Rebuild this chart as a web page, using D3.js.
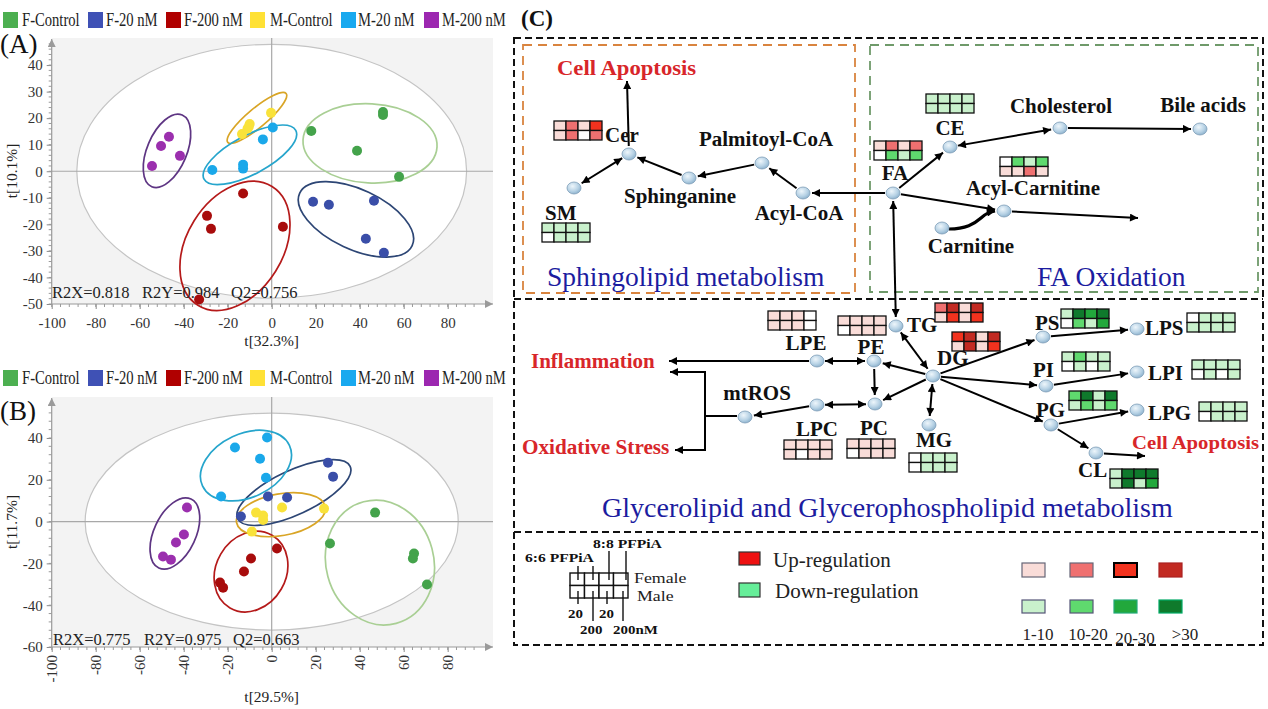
<!DOCTYPE html>
<html>
<head>
<meta charset="utf-8">
<script src="https://cdn.jsdelivr.net/npm/d3@7"></script>
<style>
  body { margin: 0; background: #fff; }
  svg { display: block; font-family: "Liberation Serif", "Times New Roman", serif; }
</style>
</head>
<body>
<div id="chart"></div>
<script>
// ---------- data: PLS-DA scores ----------
const groups = ["F-Control", "F-20 nM", "F-200 nM", "M-Control", "M-20 nM", "M-200 nM"];

// panel A scores [t1, t2]
const scoresA_FControl = [[18, 15.2], [50.6, 22.3], [50.6, 21.2], [38.8, 7.7], [57.9, -2.1]];
const scoresA_F20 = [[18.8, -11.5], [26, -12.6], [46.5, -11.1], [42.8, -25.4], [51, -30.7]];
const scoresA_F200 = [[-13, -8.4], [-29.4, -16.8], [-27.6, -21.7], [5.1, -20.9], [-33, -48.3]];
const scoresA_MControl = [[-13.5, 14], [-11, 16], [-10, 17.8], [-10.4, 16.8], [-0.3, 22]];
const scoresA_M20 = [[-27, 0.5], [-13, 1], [-13, 2.5], [-4, 12], [0.5, 16.5]];
const scoresA_M200 = [[-54.4, 2], [-50.3, 9.5], [-46.7, 13], [-41.7, 5.8]];

// panel B scores [t1, t2]
const scoresB_FControl = [[47, 4.3], [26.5, -10.5], [64.7, -15.3], [64.2, -17.7], [70.6, -30.1]];
const scoresB_F20 = [[25.6, 28.2], [27.9, 21.5], [-1.7, 12], [7, 11.5], [-14, 2.4]];
const scoresB_F200 = [[2.4, -12.9], [-9.4, -17.7], [-12.6, -23.9], [-23.5, -29.2], [-22.1, -31.6]];
const scoresB_MControl = [[-7.1, 4.3], [-3.9, 2.9], [4.7, 6.7], [23.8, 6.2], [-9, -4.8], [-3.9, 0.8]];
const scoresB_M20 = [[-16.7, 35.4], [-2.1, 40.2], [-5.3, 30.1], [-2.6, 21], [-23, 12]];
const scoresB_M200 = [[-38.5, 6.7], [-39.9, -6.2], [-43.5, -10], [-49.4, -16.7], [-45.8, -18.2]];

// group confidence ellipses [t1 centre, t2 centre, semi-major, semi-minor (t1 units), angle deg]
const ellipsesA = [[44.7, 10.5, 30.5, 18, 3], [38.3, -18.1, 28.2, 13.6, 25], [-16.7, -28.1, 31.8, 21.8, -58],
                   [-6.7, 20.1, 17.3, 4.3, -40], [-9.9, 6.2, 23.6, 8.8, -28], [-47.6, 7.7, 17.7, 9, -67]];
const ellipsesB = [[49.2, -19.6, 28.6, 24.5, 75], [10.1, 13.9, 28.2, 10, -25], [-9.4, -23.9, 19.1, 15.9, -60],
                   [4.2, 3.3, 20.5, 9.5, -10], [-11.7, 26.8, 21.8, 14.5, -25], [-44, -5.7, 17.3, 9.5, -65]];

// Hotelling T2 ellipse semi-axes [t1, t2]
const hotellingA = [88.6, 47.8];
const hotellingB = [84.8, 51.9];

const statsA = ["R2X=0.818", "R2Y=0.984", "Q2=0.756"];
const statsB = ["R2X=0.775", "R2Y=0.975", "Q2=0.663"];
const axisLabelsA = ["t[32.3%]", "t[10.1%]"];
const axisLabelsB = ["t[29.5%]", "t[11.7%]"];

// ---------- data: lipid fold-change levels (+ up, - down, 0 none) ----------
// columns: 6:6 20, 6:6 200, 8:8 20, 8:8 200 nM
const lipids = ["Cer", "SM", "FA", "CE", "Acyl-Carnitine", "LPE", "PE", "TG", "DG", "LPC", "PC", "MG",
                "PS", "LPS", "PI", "LPI", "PG", "LPG", "CL"];
const femaleLevel = [[1, 2, 1, 3], [-1, -1, -1, -1], [1, 2, 1, 2], [-1, -1, -1, -1], [0, -2, -1, -2],
                     [1, 1, 1, 0], [1, 1, 1, 1], [2, 4, 1, 4], [3, 4, 1, 4], [1, 1, 1, 1], [1, 1, 1, 1],
                     [0, -1, -1, -1], [-1, -4, -3, -4], [0, -1, -1, -1], [-1, -2, -1, -1], [-1, -1, -1, -1],
                     [-2, -4, -1, -4], [-1, -1, -1, -1], [-1, -4, -4, -4]];
const maleLevel = [[1, 2, 0, 2], [0, -1, -1, -1], [0, -2, -1, -2], [-1, -1, -1, -1], [1, 1, 2, 1],
                   [1, 1, 1, 0], [0, 1, 1, 1], [1, 3, 1, 3], [1, 4, 1, 3], [1, 0, 1, 1], [0, 1, 1, 1],
                   [0, -1, -1, -1], [0, -2, -1, -3], [-1, -1, -1, -1], [0, -1, 0, -1], [0, -1, 0, -1],
                   [-1, -2, -1, -2], [0, -1, -1, -1], [-1, -4, -1, -3]];
const levelBins = ["1-10", "10-20", "20-30", ">30"];

// ---------- styles ----------
const groupFill = ["#44a34b", "#3a4ea8", "#a80c0c", "#f9e23a", "#1aa8ea", "#9b2fae"];
const groupLegend = ["#4caf50", "#3f51b5", "#b00000", "#ffe135", "#19a9ef", "#9c27b0"];
const groupRing = ["#a9cf94", "#2d4675", "#b51a1a", "#d9a526", "#26a5cc", "#5e3583"];
const levelColor = d3.scaleOrdinal()
  .domain([4, 3, 2, 1, 0, -1, -2, -3, -4])
  .range(["#c22a22", "#f2321e", "#ef7070", "#f9dcd8", "#ffffff", "#c9f1cc", "#5fd96e", "#22a83c", "#0f7a2c"]);

const W = 1268, H = 709;
const svg = d3.select("#chart").append("svg").attr("width", W).attr("height", H);
const defs = svg.append("defs");

defs.append("marker").attr("id", "ah")
  .attr("viewBox", "0 0 10 10").attr("refX", 10).attr("refY", 5)
  .attr("markerWidth", 10).attr("markerHeight", 8).attr("markerUnits", "userSpaceOnUse")
  .attr("orient", "auto-start-reverse")
  .append("path").attr("d", "M0,0L10,5L0,10z").attr("fill", "#000");
defs.append("marker").attr("id", "axah")
  .attr("viewBox", "0 0 10 10").attr("refX", 10).attr("refY", 5)
  .attr("markerWidth", 11).attr("markerHeight", 8).attr("markerUnits", "userSpaceOnUse")
  .attr("orient", "auto")
  .append("path").attr("d", "M0,0L10,5L0,10z").attr("fill", "#9a9a9a");
const grad = defs.append("radialGradient").attr("id", "nodeG")
  .attr("cx", "40%").attr("cy", "35%").attr("r", "70%");
grad.append("stop").attr("offset", "0%").attr("stop-color", "#eef6fb");
grad.append("stop").attr("offset", "60%").attr("stop-color", "#b7d2e5");
grad.append("stop").attr("offset", "100%").attr("stop-color", "#88aeca");

function txt(g, s, x, y, o = {}) {
  return g.append("text")
    .attr("transform", `translate(${x},${y}) scale(${o.sx || 1},1)${o.rot ? ` rotate(${o.rot})` : ""}`)
    .attr("text-anchor", o.anchor || "start")
    .attr("font-size", o.size || 15)
    .attr("font-weight", o.weight || "normal")
    .attr("fill", o.fill || "#111")
    .text(s);
}

// ---------- score plots ----------
function scorePanel(p) {
  const g = svg.append("g");
  const x = d3.scaleLinear().domain([-100, 100.6]).range([51.7, 493]);
  const y = d3.scaleLinear().domain(p.yDomain).range(p.yRange);
  const [x0, x1] = x.range(), [yb, yt] = y.range();
  const kx = x(1) - x(0);

  g.append("rect").attr("x", x0).attr("y", yt).attr("width", x1 - x0).attr("height", yb - yt)
    .attr("fill", "#f3f3f3");
  g.append("ellipse").attr("cx", x(0)).attr("cy", y(0))
    .attr("rx", x(p.hot[0]) - x(0)).attr("ry", y(0) - y(p.hot[1]))
    .attr("fill", "#fff").attr("stroke", "#c4c4c4").attr("stroke-width", 1.2);

  g.append("line").attr("x1", x(0)).attr("x2", x(0)).attr("y1", yt).attr("y2", yb)
    .attr("stroke", "#a8a8a8").attr("stroke-width", 1.2);
  g.append("line").attr("x1", x0).attr("x2", x1).attr("y1", y(0)).attr("y2", y(0))
    .attr("stroke", "#a8a8a8").attr("stroke-width", 1.2);

  // axes
  const ya = g.append("g").attr("transform", `translate(${x0},0)`)
    .call(d3.axisLeft(y).tickValues(p.yMajor).tickSize(5).tickPadding(4).tickFormat(d => String(d)));
  const xa = g.append("g").attr("transform", `translate(0,${yb})`)
    .call(d3.axisBottom(x).tickValues(d3.range(-100, 81, 20)).tickSize(5).tickPadding(8).tickFormat(d => String(d)));
  [ya, xa].forEach(a => {
    a.attr("font-family", null).attr("font-size", null);
    a.select(".domain").remove();
    a.selectAll("line").attr("stroke", "#8a8a8a");
    a.selectAll("text").attr("font-size", 15).attr("fill", "#333");
  });
  if (p.rotX) {
    xa.selectAll("text").attr("transform", "rotate(-90)").attr("text-anchor", "end")
      .attr("x", -8).attr("y", 0).attr("dy", "0.35em");
  }
  g.append("g").selectAll("line").data(p.yMinor).join("line")
    .attr("x1", x0 - 3).attr("x2", x0).attr("y1", d => y(d)).attr("y2", d => y(d))
    .attr("stroke", "#9a9a9a");
  g.append("g").selectAll("line").data(d3.range(-100, 96, 4)).join("line")
    .attr("x1", d => x(d)).attr("x2", d => x(d)).attr("y1", yb).attr("y2", yb + 3)
    .attr("stroke", "#9a9a9a");
  g.append("line").attr("x1", x0).attr("x2", x0).attr("y1", yb).attr("y2", yt + 1)
    .attr("stroke", "#9a9a9a").attr("stroke-width", 1.2).attr("marker-end", "url(#axah)");
  g.append("line").attr("x1", x0).attr("x2", x1).attr("y1", yb).attr("y2", yb)
    .attr("stroke", "#9a9a9a").attr("stroke-width", 1.2).attr("marker-end", "url(#axah)");

  // group ellipses
  g.append("g").selectAll("ellipse").data(p.ell).join("ellipse")
    .attr("transform", d => `translate(${x(d[0])},${y(d[1])}) rotate(${d[4]})`)
    .attr("rx", d => d[2] * kx).attr("ry", d => d[3] * kx)
    .attr("fill", "none").attr("stroke", (d, i) => groupRing[i]).attr("stroke-width", 1.7);

  // stats text
  p.stats.forEach((s, i) => txt(g, s, p.statX[i], p.statY, { size: 16.5, fill: "#222" }));

  // points
  p.scores.forEach((pts, i) => {
    g.append("g").selectAll("circle").data(pts).join("circle")
      .attr("cx", d => x(d[0])).attr("cy", d => y(d[1])).attr("r", 5)
      .attr("fill", groupFill[i]);
  });

  // axis titles
  txt(g, p.labels[0], x(0), p.xLabelY, { anchor: "middle", size: 15.5, fill: "#222" });
  txt(g, p.labels[1], 17, (yb + yt) / 2 + p.yLabelShift, { anchor: "middle", size: 15.5, fill: "#222", rot: -90 });

  // legend
  const legX = [3, 88, 166, 250, 341, 424];
  const legT = [22, 106, 184, 270, 358, 442];
  groups.forEach((gr, i) => {
    g.append("rect").attr("x", legX[i]).attr("y", p.legY).attr("width", 15).attr("height", 16)
      .attr("fill", groupLegend[i]);
    txt(g, gr, legT[i], p.legY + 14, { size: 19, sx: 0.77, fill: "#222" });
  });
  txt(g, p.tag, 0, p.tagY, { size: 27, fill: "#111" });
}

scorePanel({
  yDomain: [-50, 50.2], yRange: [304, 38],
  yMajor: d3.range(-50, 41, 10), yMinor: d3.range(-50, 49, 2),
  hot: hotellingA, ell: ellipsesA,
  scores: [scoresA_FControl, scoresA_F20, scoresA_F200, scoresA_MControl, scoresA_M20, scoresA_M200],
  stats: statsA, statX: [52, 142, 231], statY: 298,
  labels: axisLabelsA, xLabelY: 346, yLabelShift: 0,
  legY: 12, tag: "(A)", tagY: 53, rotX: false
});
scorePanel({
  yDomain: [-60, 59.6], yRange: [647, 397],
  yMajor: d3.range(-60, 41, 20), yMinor: d3.range(-60, 57, 4),
  hot: hotellingB, ell: ellipsesB,
  scores: [scoresB_FControl, scoresB_F20, scoresB_F200, scoresB_MControl, scoresB_M20, scoresB_M200],
  stats: statsB, statX: [53, 144, 233], statY: 645,
  labels: axisLabelsB, xLabelY: 702, yLabelShift: 0,
  legY: 370, tag: "(B)", tagY: 420, rotX: true
});

// ---------- pathway panel C ----------
const C = svg.append("g");
txt(C, "(C)", 521, 26, { size: 23, weight: "bold" });

C.append("rect").attr("x", 514).attr("y", 38).attr("width", 749).attr("height", 607)
  .attr("fill", "none").attr("stroke", "#111").attr("stroke-width", 2).attr("stroke-dasharray", "7,4");
[299, 532].forEach(yy => C.append("line").attr("x1", 514).attr("x2", 1263).attr("y1", yy).attr("y2", yy)
  .attr("stroke", "#111").attr("stroke-width", 2).attr("stroke-dasharray", "7,4"));
C.append("rect").attr("x", 523).attr("y", 45).attr("width", 332).attr("height", 248)
  .attr("fill", "none").attr("stroke", "#d9843f").attr("stroke-width", 1.8).attr("stroke-dasharray", "9,6");
C.append("rect").attr("x", 870).attr("y", 45).attr("width", 388).attr("height", 247)
  .attr("fill", "none").attr("stroke", "#6f9a6a").attr("stroke-width", 1.8).attr("stroke-dasharray", "9,6");

const pos = {
  Cer: [629, 154], SM: [574, 188], Sphinganine: [689, 178], Palmitoyl: [762, 163], AcylCoA: [803, 193],
  FA: [893, 193], CE: [950, 147], Cholesterol: [1060, 128], Bile: [1200, 129], AcylCarnitine: [1004, 211],
  Carnitine: [942, 228], TG: [896, 326], DG: [933, 376], PE: [874, 361], LPE: [817, 361], PC: [875, 404],
  LPC: [817, 405], mtROS: [745, 417], MG: [929, 425], PS: [1043, 337], LPS: [1137, 329], PI: [1046, 386],
  LPI: [1137, 372], PG: [1051, 425], LPG: [1137, 410], CL: [1096, 453]
};

const links = [
  ["Cer", [627, 81], 1], ["Cer", "SM", 2], ["Sphinganine", "Cer", 1], ["Palmitoyl", "Sphinganine", 1],
  ["AcylCoA", "Palmitoyl", 1], ["FA", "AcylCoA", 1], ["FA", "CE", 1], ["CE", "Cholesterol", 2],
  ["Cholesterol", "Bile", 1], ["FA", "AcylCarnitine", 1], ["AcylCarnitine", [1138, 218], 1],
  ["FA", "TG", 2], ["TG", "DG", 2], ["DG", "PE", 1], ["DG", "PC", 1], ["DG", "MG", 2],
  ["DG", "PS", 1], ["DG", "PI", 1], ["DG", "PG", 1], ["PS", "LPS", 1], ["PI", "LPI", 1],
  ["PG", "LPG", 1], ["PG", "CL", 1], ["CL", [1145, 456], 1], ["LPE", "PE", 2], ["PE", "PC", 1],
  ["LPC", "PC", 2], ["LPE", [669, 361], 1], ["LPC", "mtROS", 1]
];

const linkG = C.append("g").attr("stroke", "#000").attr("stroke-width", 2).attr("fill", "none");
links.forEach(([a, b, k]) => {
  const p1 = typeof a === "string" ? pos[a] : a;
  const p2 = typeof b === "string" ? pos[b] : b;
  const dx = p2[0] - p1[0], dy = p2[1] - p1[1], L = Math.hypot(dx, dy);
  const s1 = typeof a === "string" ? 8 : 0, s2 = typeof b === "string" ? 9 : 0;
  const l = linkG.append("line")
    .attr("x1", p1[0] + dx / L * s1).attr("y1", p1[1] + dy / L * s1)
    .attr("x2", p2[0] - dx / L * s2).attr("y2", p2[1] - dy / L * s2)
    .attr("marker-end", "url(#ah)");
  if (k === 2) l.attr("marker-start", "url(#ah)");
});
// carnitine shuttle (curved, thick)
linkG.append("path").attr("d", "M949,229 C966,229 974,224 981,218 S990,212 995,211")
  .attr("stroke-width", 3.2).attr("marker-end", "url(#ah)");
// mtROS branch
linkG.append("polyline").attr("points", "737,416 705,416");
linkG.append("line").attr("x1", 705).attr("x2", 705).attr("y1", 371).attr("y2", 451);
linkG.append("line").attr("x1", 706).attr("x2", 670).attr("y1", 372).attr("y2", 372).attr("marker-end", "url(#ah)");
linkG.append("line").attr("x1", 706).attr("x2", 675).attr("y1", 450).attr("y2", 450).attr("marker-end", "url(#ah)");

// nodes
C.append("g").selectAll("ellipse").data(Object.values(pos)).join("ellipse")
  .attr("cx", d => d[0]).attr("cy", d => d[1]).attr("rx", 7).attr("ry", 6)
  .attr("fill", "url(#nodeG)").attr("stroke", "#7d9db8").attr("stroke-width", 0.8);

// node labels [text, x, baseline, anchor]
const nodeLabels = [
  ["Cer", 605, 142, "start"], ["SM", 545, 220, "start"], ["Sphinganine", 680, 203, "middle"],
  ["Palmitoyl-CoA", 766, 146, "middle"], ["Acyl-CoA", 799, 220, "middle"], ["FA", 895, 180, "middle"],
  ["CE", 950, 135, "middle"], ["Cholesterol", 1061, 113, "middle"], ["Bile acids", 1203, 112, "middle"],
  ["Acyl-Carnitine", 1033, 195, "middle"], ["Carnitine", 971, 253, "middle"], ["TG", 907, 332, "start"],
  ["DG", 937, 365, "start"], ["PE", 871, 354, "middle"], ["LPE", 806, 350, "middle"], ["PC", 874, 435, "middle"],
  ["LPC", 817, 436, "middle"], ["mtROS", 757, 400, "middle"], ["MG", 934, 447, "middle"],
  ["PS", 1035, 330, "start"], ["LPS", 1145, 335, "start"], ["PI", 1033, 377, "start"],
  ["LPI", 1148, 380, "start"], ["PG", 1036, 417, "start"], ["LPG", 1148, 420, "start"], ["CL", 1078, 477, "start"]
];
nodeLabels.forEach(([s, x, y, a]) => txt(C, s, x, y, { size: 20, weight: "bold", anchor: a, sx: 1.05 }));

const red = "#d8262a", blue = "#1c1ca0";
txt(C, "Cell Apoptosis", 557, 75, { size: 21, weight: "bold", fill: red, sx: 1.08 });
txt(C, "Cell Apoptosis", 1132, 449, { size: 19, weight: "bold", fill: red, sx: 1.09 });
txt(C, "Inflammation", 531, 368, { size: 20, weight: "bold", fill: red, sx: 1.05 });
txt(C, "Oxidative Stress", 522, 454, { size: 20, weight: "bold", fill: red, sx: 1.06 });
txt(C, "Sphingolipid metabolism", 547, 286, { size: 27.5, fill: blue });
txt(C, "FA Oxidation", 1037, 286, { size: 27.5, fill: blue });
txt(C, "Glycerolipid and Glycerophospholipid metabolism", 602, 517, { size: 27.5, fill: blue, sx: 1.02 });

// heatmap anchors (top-left) per lipid
const hmPos = {
  "Cer": [554, 121], "SM": [542, 223], "FA": [874, 141], "CE": [926, 94], "Acyl-Carnitine": [1000, 157],
  "LPE": [768, 311], "PE": [838, 316], "TG": [935, 303], "DG": [952, 332], "LPC": [784, 440], "PC": [847, 439],
  "MG": [909, 453], "PS": [1061, 309], "LPS": [1187, 313], "PI": [1062, 352], "LPI": [1192, 360],
  "PG": [1069, 391], "LPG": [1199, 402], "CL": [1110, 469]
};
const cw = 12, ch = 9.5;
lipids.forEach((lp, i) => {
  const [hx, hy] = hmPos[lp];
  const cells = [];
  femaleLevel[i].forEach((v, j) => cells.push({ r: 0, c: j, v }));
  maleLevel[i].forEach((v, j) => cells.push({ r: 1, c: j, v }));
  C.append("g").selectAll("rect").data(cells).join("rect")
    .attr("x", d => hx + d.c * cw).attr("y", d => hy + d.r * ch)
    .attr("width", cw).attr("height", ch)
    .attr("fill", d => levelColor(d.v)).attr("stroke", "#111").attr("stroke-width", 1.3);
});

// ---------- legend of panel C ----------
const L = C.append("g");
txt(L, "6:6 PFPiA", 525, 562, { size: 12.5, weight: "bold", sx: 1.25 });
txt(L, "8:8 PFPiA", 593, 548, { size: 12.5, weight: "bold", sx: 1.25 });
const gx = 570, gy = 573, gw = 14.5, gh = 12.5;
for (let r = 0; r < 2; r++) for (let c = 0; c < 4; c++) {
  L.append("rect").attr("x", gx + c * gw).attr("y", gy + r * gh).attr("width", gw).attr("height", gh)
    .attr("fill", "#fff").attr("stroke", "#111").attr("stroke-width", 1.4);
}
const tickLines = [[578, 566, 580], [593, 566, 580], [609, 551, 580], [626, 551, 580],
                   [578, 591, 604], [593, 591, 621], [607, 591, 604], [623, 591, 621]];
tickLines.forEach(([tx, t1, t2]) => L.append("line").attr("x1", tx).attr("x2", tx).attr("y1", t1).attr("y2", t2)
  .attr("stroke", "#111").attr("stroke-width", 1.4));
txt(L, "20", 568, 618, { size: 13, weight: "bold", sx: 1.15 });
txt(L, "20", 599, 618, { size: 13, weight: "bold", sx: 1.15 });
txt(L, "200", 580, 634, { size: 13, weight: "bold", sx: 1.15 });
txt(L, "200nM", 613, 634, { size: 13, weight: "bold", sx: 1.15 });
txt(L, "Female", 634, 583, { size: 15.5, sx: 1.15, fill: "#222" });
txt(L, "Male", 637, 601, { size: 15.5, sx: 1.15, fill: "#222" });

L.append("rect").attr("x", 739).attr("y", 552).attr("width", 21).attr("height", 13)
  .attr("fill", "#ee1111").attr("stroke", "#333").attr("stroke-width", 1.2);
L.append("rect").attr("x", 739).attr("y", 583).attr("width", 21).attr("height", 14)
  .attr("fill", "#66ee99").attr("stroke", "#333").attr("stroke-width", 1.2);
txt(L, "Up-regulation", 773, 567, { size: 21, fill: "#222" });
txt(L, "Down-regulation", 775, 598, { size: 21, fill: "#222" });

const binX = [1022, 1070, 1114, 1159];
const binLabelX = [1038, 1088, 1135, 1185];
const upStroke = ["#667", "#667", "#000", "#a22"], downStroke = ["#557", "#557", "#2a7", "#0a6"];
levelBins.forEach((b, i) => {
  L.append("rect").attr("x", binX[i]).attr("y", 563).attr("width", 23).attr("height", 14)
    .attr("fill", levelColor(i + 1)).attr("stroke", upStroke[i]).attr("stroke-width", i === 2 ? 2 : 1.2);
  L.append("rect").attr("x", binX[i]).attr("y", 600).attr("width", 23).attr("height", 13)
    .attr("fill", levelColor(-(i + 1))).attr("stroke", downStroke[i]).attr("stroke-width", 1.2);
  txt(L, b, binLabelX[i], i === 2 ? 644 : 640, { size: 17, anchor: "middle", fill: "#222" });
});
</script>
</body>
</html>
